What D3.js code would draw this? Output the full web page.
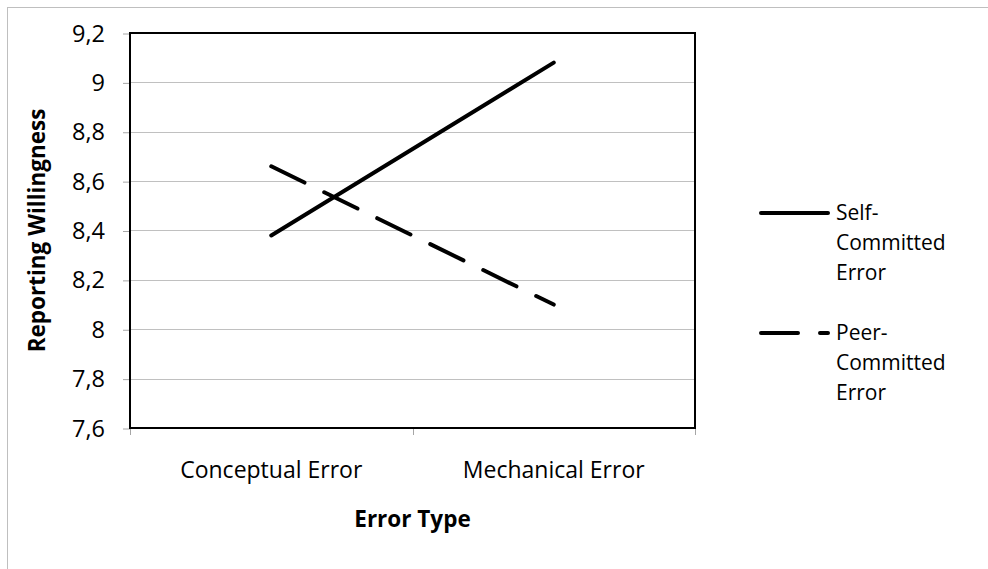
<!DOCTYPE html>
<html>
<head>
<meta charset="utf-8">
<script src="https://cdn.jsdelivr.net/npm/d3@7"></script>
<style>
  body { margin: 0; background: #fff; }
  text { font-family: "Open Sans", sans-serif; fill: #000; }
</style>
</head>
<body>
<script>
var width = 988,
    height = 569;

// chart values
var categories = ["Conceptual Error", "Mechanical Error"];
var selfValues = [8.38, 9.08];
var peerValues = [8.66, 8.10];
var yTicks = [7.6, 7.8, 8, 8.2, 8.4, 8.6, 8.8, 9, 9.2];
var seriesNames = [["Self-", "Committed", "Error"], ["Peer-", "Committed", "Error"]];

var plot = {left: 130, top: 33, right: 695, bottom: 428};

var svg = d3.select("body").append("svg")
    .attr("width", width)
    .attr("height", height);

// outer chart border (cut off on right / bottom like the original)
svg.append("rect")
    .attr("x", 7.5).attr("y", 7.5)
    .attr("width", width).attr("height", height)
    .attr("fill", "none")
    .attr("stroke", "#bfbfbf");

var x = d3.scaleBand()
    .domain(categories)
    .range([plot.left, plot.right]);

var y = d3.scaleLinear()
    .domain([7.6, 9.2])
    .range([plot.bottom, plot.top]);

var comma = d3.formatLocale({decimal: ",", thousands: ".", grouping: [3], currency: ["", ""]}).format("~g");

// gridlines
svg.append("g")
  .selectAll("line")
  .data(yTicks)
  .enter().append("line")
    .attr("x1", plot.left).attr("x2", plot.right)
    .attr("y1", function(d) { return Math.round(y(d)) + 0.5; })
    .attr("y2", function(d) { return Math.round(y(d)) + 0.5; })
    .attr("stroke", "#c0c0c0")
    .attr("stroke-width", 1);

// y axis
var yAxis = svg.append("g")
    .attr("transform", "translate(" + plot.left + ",0.5)")
    .call(d3.axisLeft(y).tickValues(yTicks).tickSize(7).tickPadding(18).tickFormat(comma));
yAxis.select(".domain").remove();
yAxis.selectAll(".tick line").attr("stroke", "#a6a6a6");
yAxis.selectAll("text")
    .attr("fill", "#000")
    .style("font-size", "23.5px")
    .style("font-family", "'Open Sans', sans-serif");

// x axis: ticks on band edges
svg.append("g")
  .selectAll("line")
  .data([plot.left, x(categories[1]), plot.right])
  .enter().append("line")
    .attr("x1", function(d) { return Math.round(d) + 0.5; })
    .attr("x2", function(d) { return Math.round(d) + 0.5; })
    .attr("y1", plot.bottom).attr("y2", plot.bottom + 7)
    .attr("stroke", "#a6a6a6");

svg.append("g")
  .selectAll("text")
  .data(categories)
  .enter().append("text")
    .attr("x", function(d) { return x(d) + x.bandwidth() / 2; })
    .attr("y", 478)
    .attr("text-anchor", "middle")
    .style("font-size", "23px")
    .text(function(d) { return d; });

// plot area border
svg.append("rect")
    .attr("x", plot.left).attr("y", plot.top)
    .attr("width", plot.right - plot.left)
    .attr("height", plot.bottom - plot.top)
    .attr("fill", "none")
    .attr("stroke", "#000")
    .attr("stroke-width", 2);

// axis titles
svg.append("text")
    .attr("x", (plot.left + plot.right) / 2)
    .attr("y", 527)
    .attr("text-anchor", "middle")
    .style("font-size", "22.5px")
    .style("font-weight", "bold")
    .text("Error Type");

svg.append("text")
    .attr("transform", "translate(45," + (plot.top + plot.bottom) / 2 + ") rotate(-90)")
    .attr("text-anchor", "middle")
    .style("font-size", "22.5px")
    .style("font-weight", "bold")
    .text("Reporting Willingness");

// lines
var line = d3.line()
    .x(function(d, i) { return x(categories[i]) + x.bandwidth() / 2; })
    .y(function(d) { return y(d); });

svg.append("path")
    .datum(selfValues)
    .attr("d", line)
    .attr("fill", "none")
    .attr("stroke", "#000")
    .attr("stroke-width", 4)
    .attr("stroke-linecap", "round");

svg.append("path")
    .datum(peerValues)
    .attr("d", line)
    .attr("fill", "none")
    .attr("stroke", "#000")
    .attr("stroke-width", 4)
    .attr("stroke-linecap", "round")
    .attr("stroke-dasharray", "37,22");

// legend
var legend = svg.append("g")
  .selectAll("g")
  .data(seriesNames)
  .enter().append("g")
    .attr("transform", function(d, i) { return "translate(0," + (213 + i * 120) + ")"; });

legend.append("line")
    .attr("x1", 761).attr("x2", 828)
    .attr("y1", 0).attr("y2", 0)
    .attr("stroke", "#000")
    .attr("stroke-width", 4)
    .attr("stroke-linecap", "round")
    .attr("stroke-dasharray", function(d, i) { return i == 1 ? "37,22" : null; });

legend.selectAll("text")
    .data(function(d) { return d; })
    .enter().append("text")
    .attr("x", 836)
    .attr("y", function(d, j) { return 7 + j * 30; })
    .style("font-size", "21px")
    .text(function(d) { return d; });
</script>
</body>
</html>
